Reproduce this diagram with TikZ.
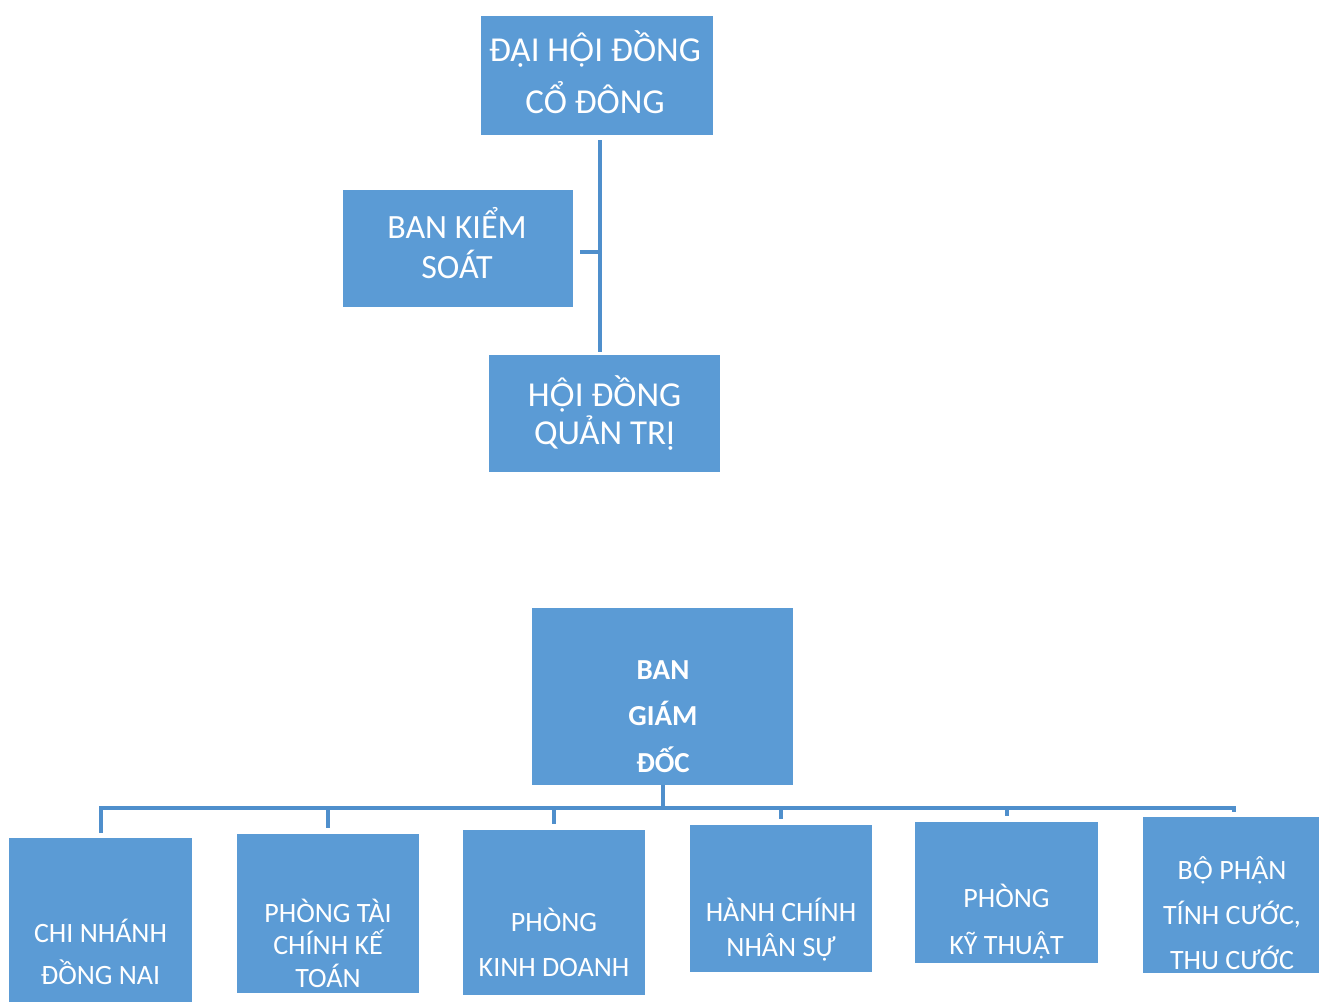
\documentclass[tikz,border=0pt]{standalone}
\usepackage{fontspec}
\setmainfont{Carlito}
\newfontfamily\vnf{Lato}[Scale=0.9]
\newcommand\OCD{{\vnf Ộ}}
\newcommand\ACD{{\vnf Ậ}}
\definecolor{boxblue}{HTML}{5B9BD5}
\definecolor{lineblue}{HTML}{4F8FCC}
\newcommand\lnst{\rule[-\dimexpr0.5\baselineskip-0.322em\relax]{0pt}{\baselineskip}}
\begin{document}
\begin{tikzpicture}[x=1pt,y=-1pt,
  box/.style={fill=boxblue,draw=none,inner sep=0pt,outer sep=0pt},
  lbl/.style={text=white,align=center,inner sep=0pt},
  conn/.style={draw=lineblue,line width=4pt},
  big/.style={font=\fontsize{35}{#1}\selectfont},
  small/.style={font=\fontsize{28}{#1}\selectfont},
  bold/.style={font=\bfseries\fontsize{29}{#1}\selectfont}]
\useasboundingbox (0,0) rectangle (1319,1001);
\fill[white] (0,0) rectangle (1319,1001);
\clip (0,0) rectangle (1319,1001);

% boxes
\node[box,minimum width=232,minimum height=119] (dh)  at (597,75.5) {};
\node[box,minimum width=230,minimum height=117] (bks) at (458,248.5) {};
\node[box,minimum width=231,minimum height=117] (hd)  at (604.5,413.5) {};
\node[box,minimum width=261,minimum height=177] (bgd) at (662.5,696.5) {};
\node[box,minimum width=183,minimum height=172] (cn)  at (100.5,924) {};
\node[box,minimum width=182,minimum height=159] (ptc) at (328,913.5) {};
\node[box,minimum width=182,minimum height=165] (pkd) at (554,912.5) {};
\node[box,minimum width=182,minimum height=147] (hc)  at (781,898.5) {};
\node[box,minimum width=183,minimum height=141] (pkt) at (1006.5,892.5) {};
\node[box,minimum width=182,minimum height=156] (bp)  at (1234,895) {};

% labels
\node[lbl,big=52] (dhT) at (595,76) {\lnst ĐẠI H\OCD I ĐỒNG\\\lnst CỔ ĐÔNG};
\node[lbl,font=\fontsize{34}{40}\selectfont] (bksT) at (457,247) {\lnst BAN KIỂM\\\lnst SOÁT};
\node[lbl,big=38] (hdT) at (604.5,414) {\lnst H\OCD I ĐỒNG\\\lnst QUẢN TRỊ};
\node[lbl,bold=46.5] (bgdT) at (663,716.5) {\lnst BAN\\\lnst GIÁM\\\lnst ĐỐC};
\node[lbl,small=42] (cnT) at (100.5,954) {\lnst CHI NHÁNH\\\lnst ĐỒNG NAI};
\node[lbl,small=32.5] (ptcT) at (328,945.5) {\lnst PHÒNG TÀI\\\lnst CHÍNH KẾ\\\lnst TOÁN};
\node[lbl,small=45] (pkdT) at (554,944.5) {\lnst PHÒNG\\\lnst KINH DOANH};
\node[lbl,small=35] (hcT) at (781,929.5) {\lnst HÀNH CHÍNH\\\lnst NHÂN SỰ};
\node[lbl,small=47] (pktT) at (1006.5,921.5) {\lnst PHÒNG\\\lnst KỸ THU\ACD T};
\node[lbl,small=45] (bpT) at (1232,915) {\lnst B\OCD\ PH\ACD N\\\lnst TÍNH CƯỚC,\\\lnst THU CƯỚC};

% connectors (top)
\coordinate (tr) at (600,0);
\draw[conn,shorten <=5pt,shorten >=3pt] (dh.south -| tr) -- (hd.north -| tr);
\draw[conn] ([xshift=7pt,yshift=-3pt]bks.east) -- ([yshift=-3pt]bks.east -| tr);

% connectors (bottom)
\coordinate (bus) at (0,808);
\draw[conn] (bgd.south) -- (bgd.south |- bus);
\draw[conn,line join=miter,shorten <=5pt,shorten >=5pt] (cn.north) -- (cn.north |- bus) -- (bp.north |- bus) -- (bp.north);
\foreach \b in {ptc,pkd,hc,pkt}
  \draw[conn,shorten >=6pt] (\b.north |- bus) -- (\b.north);
\end{tikzpicture}
\end{document}
